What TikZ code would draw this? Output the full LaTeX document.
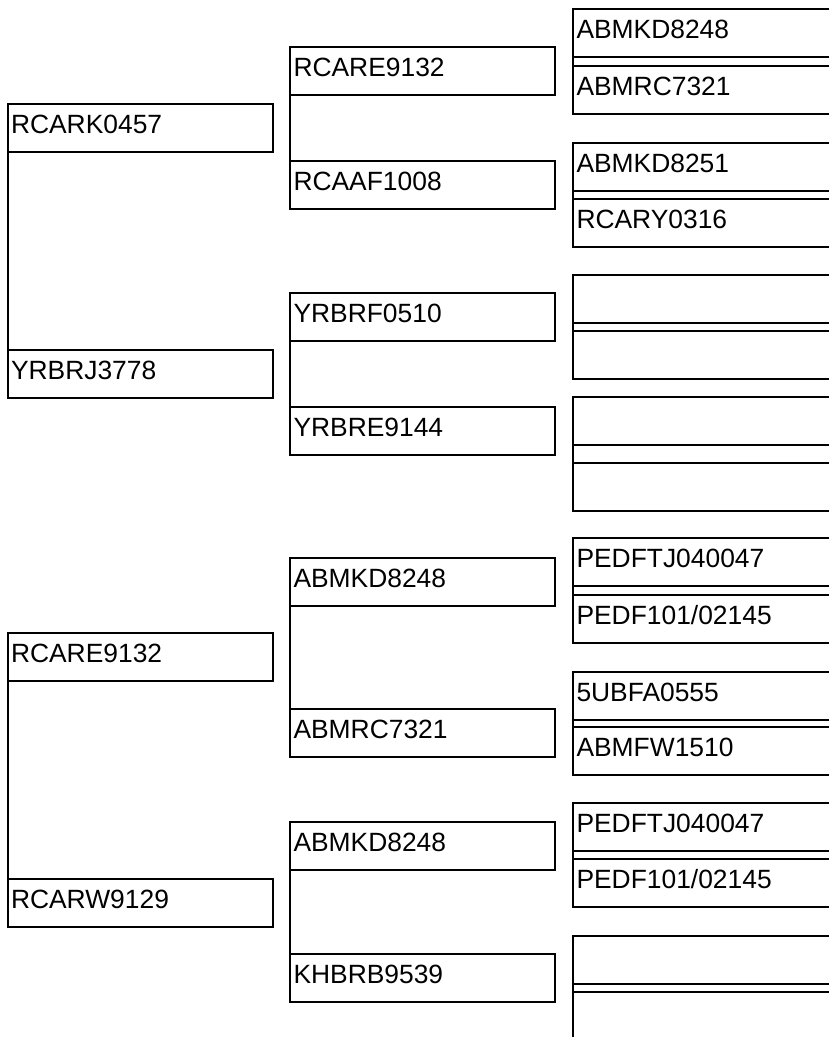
\documentclass[tikz,border=0pt]{standalone}
\usepackage{fontspec}
\setmainfont{Liberation Sans}
\usepackage{tikz}

\begin{document}
\begin{tikzpicture}[
  x=1pt, y=-1pt,
  every node/.style={font=\fontsize{26.4}{30}\selectfont},
  pbox/.style={draw, line width=2pt, anchor=north west, outer sep=0pt,
    inner xsep=3.5pt, inner ysep=0pt, text width=258pt, align=left,
    minimum height=48pt, text height=19pt, text depth=8pt},
  link/.style={line width=2pt}
]
  \useasboundingbox (0,0) rectangle (828,1037);

  % Parents
  \node[pbox] (p1) at (7.5,104) {RCARK0457};
  \node[pbox] (p2) at (7.5,350) {YRBRJ3778};
  \node[pbox] (p3) at (7.5,633) {RCARE9132};
  \node[pbox] (p4) at (7.5,879) {RCARW9129};

  % Grandparents
  \node[pbox] (g1) at (290,47) {RCARE9132};
  \node[pbox] (g2) at (290,161) {RCAAF1008};
  \node[pbox] (g3) at (290,293) {YRBRF0510};
  \node[pbox] (g4) at (290,407) {YRBRE9144};
  \node[pbox] (g5) at (290,558) {ABMKD8248};
  \node[pbox] (g6) at (290,709) {ABMRC7321};
  \node[pbox] (g7) at (290,822) {ABMKD8248};
  \node[pbox] (g8) at (290,954) {KHBRB9539};

  % Great-grandparents
  \node[pbox] (gg1) at (573,9) {ABMKD8248};
  \node[pbox] (gg2) at (573,66) {ABMRC7321};
  \node[pbox] (gg3) at (573,143) {ABMKD8251};
  \node[pbox] (gg4) at (573,199) {RCARY0316};
  \node[pbox] (gg5) at (573,275) {};
  \node[pbox] (gg6) at (573,331) {};
  \node[pbox] (gg7) at (573,397) {};
  \node[pbox] (gg8) at (573,463) {};
  \node[pbox] (gg9) at (573,538) {PEDFTJ040047};
  \node[pbox] (gg10) at (573,595) {PEDF101/02145};
  \node[pbox] (gg11) at (573,672) {5UBFA0555};
  \node[pbox] (gg12) at (573,727) {ABMFW1510};
  \node[pbox] (gg13) at (573,803) {PEDFTJ040047};
  \node[pbox] (gg14) at (573,859) {PEDF101/02145};
  \node[pbox] (gg15) at (573,936) {};
  \node[pbox] (gg16) at (573,992) {};

  % Pair links
  \draw[link] (p1.south west) -- (p2.north west);
  \draw[link] (p3.south west) -- (p4.north west);
  \draw[link] (g1.south west) -- (g2.north west);
  \draw[link] (g3.south west) -- (g4.north west);
  \draw[link] (g5.south west) -- (g6.north west);
  \draw[link] (g7.south west) -- (g8.north west);
  \draw[link] (gg1.south west) -- (gg2.north west);
  \draw[link] (gg3.south west) -- (gg4.north west);
  \draw[link] (gg5.south west) -- (gg6.north west);
  \draw[link] (gg7.south west) -- (gg8.north west);
  \draw[link] (gg9.south west) -- (gg10.north west);
  \draw[link] (gg11.south west) -- (gg12.north west);
  \draw[link] (gg13.south west) -- (gg14.north west);
  \draw[link] (gg15.south west) -- (gg16.north west);
\end{tikzpicture}
\end{document}
